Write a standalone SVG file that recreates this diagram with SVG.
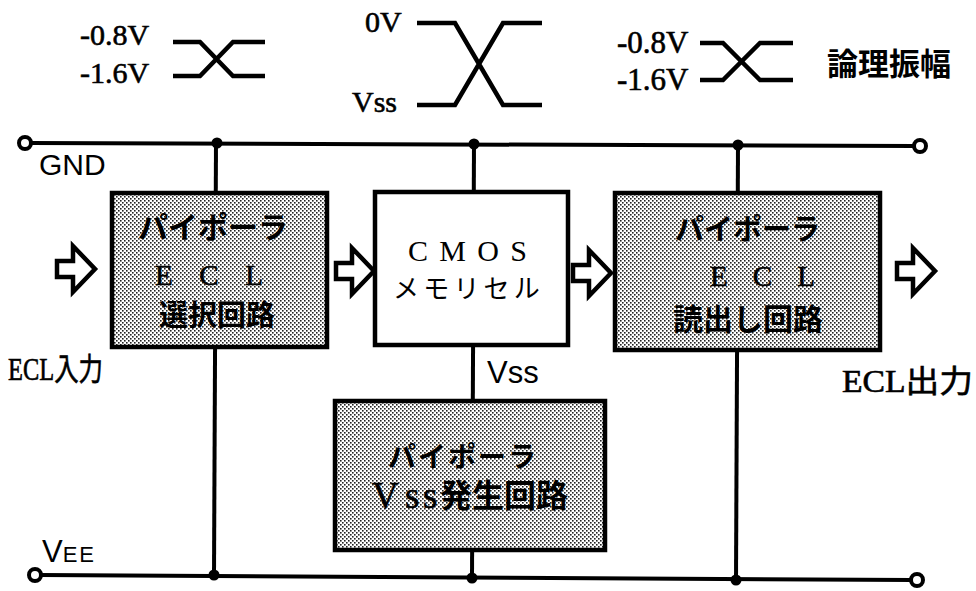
<svg xmlns="http://www.w3.org/2000/svg" width="976" height="591" viewBox="0 0 976 591">
<defs>
<pattern id="dots" width="4" height="4" patternUnits="userSpaceOnUse">
<rect width="4" height="4" fill="#ffffff"/>
<rect x="0" y="0" width="1.6" height="1.6" fill="#222"/>
<rect x="2" y="2" width="1.6" height="1.6" fill="#222"/>
</pattern>
<path id="arr" d="M0,-8 H16 V-23 L38,0 L16,23 V8 H0 Z"/>
</defs>
<style>
.w{fill:none;stroke:#000;stroke-width:4.5;stroke-linejoin:miter}
.ln{stroke:#000;stroke-width:4;fill:none}
.dot{fill:#000}
.term{fill:#fff;stroke:#000;stroke-width:4}
.box{stroke:#000;stroke-width:4.5}
.shade{fill:url(#dots)}
.plain{fill:#fff}
.ser{font-family:"Liberation Serif","Noto Sans CJK JP",serif;fill:#000}
.b{stroke:#000;stroke-width:0.6}
.san{font-family:"Liberation Sans","Noto Sans CJK JP",sans-serif;fill:#000}
.jp{font-family:"Noto Sans CJK JP",sans-serif;fill:#000}
.jb{font-family:"Noto Sans CJK JP",sans-serif;font-weight:bold;stroke:none}
.arrow{fill:#fff;stroke:#000;stroke-width:4.5;stroke-linejoin:miter}
</style>

<g id="waveforms">
<path class="w" d="M173,42 H200 L233,76 H265 M173,76 H200 L233,42 H265"/>
<path class="w" d="M417,23 H455 L503,105 H542 M417,105 H455 L503,23 H542"/>
<path class="w" d="M700,43 H723 L760,80 H793 M700,80 H723 L760,43 H793"/>
<text class="ser b" x="80" y="45" font-size="30">-0.8V</text>
<text class="ser b" x="80" y="83" font-size="30">-1.6V</text>
<text class="ser b" x="365" y="32" font-size="30">0V</text>
<text class="ser b" x="352" y="112" font-size="30">Vss</text>
<text class="ser b" x="617" y="53" font-size="31">-0.8V</text>
<text class="ser b" x="617" y="90" font-size="31">-1.6V</text>
<text class="jp" x="827" y="75" font-size="31" font-weight="bold">論理振幅</text>
</g>

<g id="connectors">
<line class="ln" x1="30" y1="143" x2="915" y2="146"/>
<line class="ln" x1="40" y1="575" x2="912" y2="580"/>
<line class="ln" x1="216" y1="143" x2="214" y2="575"/>
<line class="ln" x1="474" y1="144" x2="472" y2="578"/>
<line class="ln" x1="738" y1="145" x2="736" y2="580"/>
<circle class="dot" cx="217" cy="143" r="5.5"/>
<circle class="dot" cx="474" cy="144" r="5.5"/>
<circle class="dot" cx="738" cy="145" r="5.5"/>
<circle class="dot" cx="214" cy="575" r="5.5"/>
<circle class="dot" cx="472" cy="578" r="5.5"/>
<circle class="dot" cx="736" cy="580" r="5.5"/>
<circle class="term" cx="25" cy="143" r="6"/>
<circle class="term" cx="920" cy="146" r="6"/>
<circle class="term" cx="35" cy="575" r="6"/>
<circle class="term" cx="917" cy="580" r="6"/>
<use href="#arr" class="arrow" transform="translate(57,269)"/>
<use href="#arr" class="arrow" transform="translate(336,271)"/>
<use href="#arr" class="arrow" transform="translate(573,273)"/>
<use href="#arr" class="arrow" transform="translate(897,271)"/>
</g>

<g id="labels">
<text class="san" x="39" y="175" font-size="30">GND</text>
<text class="san" x="42" y="562" font-size="31">V<tspan font-size="22" letter-spacing="2">EE</tspan></text>
<text class="san" x="487" y="383" font-size="31">Vss</text>
<text class="ser b" x="8" y="380" font-size="31" textLength="95" lengthAdjust="spacingAndGlyphs">ECL入力</text>
<text class="ser b" x="842" y="392" font-size="31" textLength="131" lengthAdjust="spacingAndGlyphs">ECL出力</text>
</g>

<g id="sel">
<rect class="box shade" x="112" y="193" width="215" height="154"/>
<text class="ser b"><tspan class="jb" x="138" y="238" font-size="30">パイポーラ</tspan><tspan x="155" y="285" font-size="29" letter-spacing="26.6">ECL</tspan><tspan class="jb" x="159" y="326" font-size="29">選択回路</tspan></text>
</g>

<g id="cmos">
<rect class="box plain" x="375" y="192" width="193" height="153"/>
<text class="ser"><tspan x="408" y="261" font-size="30" letter-spacing="11.3">CMOS</tspan><tspan class="jp" x="393" y="298" font-size="26" letter-spacing="4.2">メモリセル</tspan></text>
</g>

<g id="read">
<rect class="box shade" x="615" y="193" width="265" height="157"/>
<text class="ser b"><tspan class="jb" x="675" y="240" font-size="29">パイポーラ</tspan><tspan x="710" y="286" font-size="29" letter-spacing="25.1">ECL</tspan><tspan class="jb" x="673" y="330" font-size="30">読出し回路</tspan></text>
</g>

<g id="vssgen">
<rect class="box shade" x="335" y="401" width="270" height="149"/>
<text class="ser b"><tspan class="jb" x="388" y="467" font-size="28" letter-spacing="2">パイポーラ</tspan><tspan x="372" y="508" font-size="37">V</tspan><tspan x="405" y="508" font-size="37">s</tspan><tspan x="423" y="508" font-size="37">s</tspan><tspan class="jb" x="440" y="507" font-size="32">発生回路</tspan></text>
</g>
</svg>
